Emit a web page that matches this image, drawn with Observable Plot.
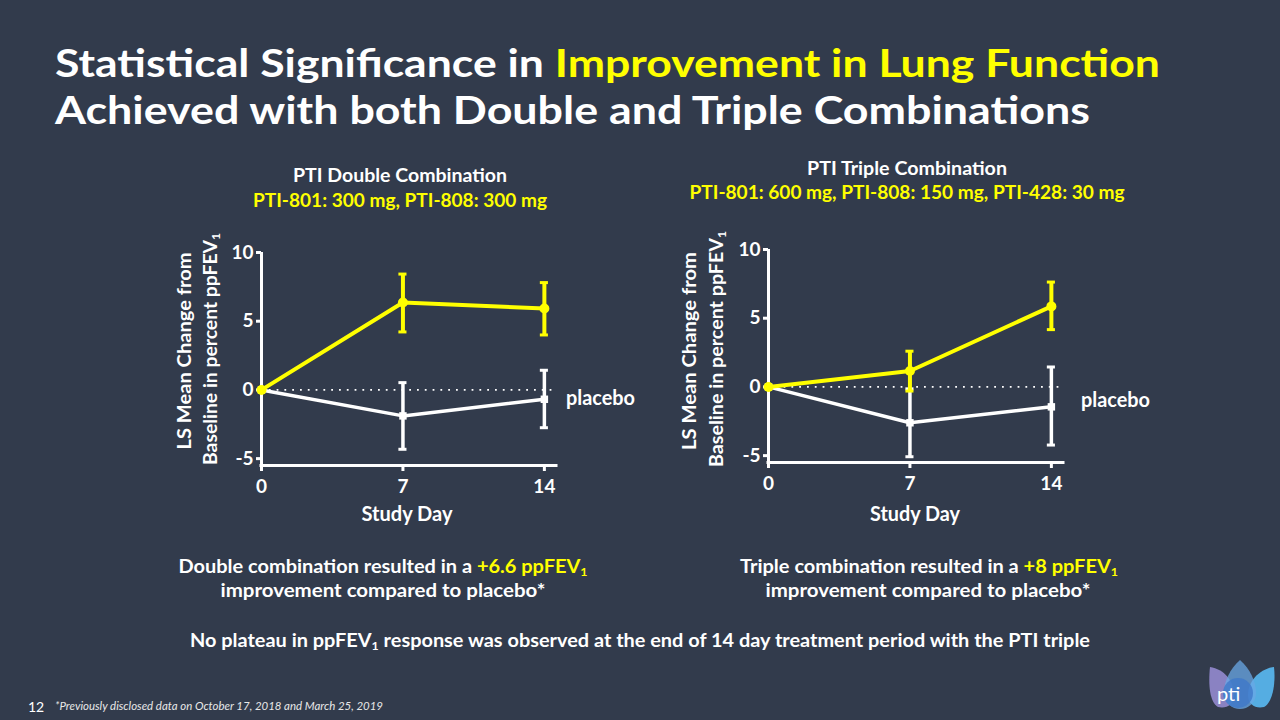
<!DOCTYPE html>
<html><head><meta charset="utf-8">
<script src="https://cdn.jsdelivr.net/npm/d3@7"></script>
<script src="https://cdn.jsdelivr.net/npm/@observablehq/plot@0.6"></script>
<style>
html,body{margin:0;padding:0;background:#323b4c;}
#slide{position:relative;width:1280px;height:720px;overflow:hidden;background:#323b4c;font-family:Lato,"Open Sans",sans-serif;font-weight:700;color:#fff;}
.t{position:absolute;white-space:nowrap;line-height:1;transform-origin:0 0;}
.y{color:#ffff00}
.sub{font-size:0.62em;vertical-align:-0.28em}
.chart{position:absolute}
.chart svg{overflow:visible}
</style></head><body><div id="slide"></div>
<script>
// ---- data ----
const days = [0, 7, 14];
const xTicks = [0, 7, 14];
const yTicks = [-5, 0, 5, 10];
const xDomain = [0, 14.6];
const yDomain = [-5.5, 10];

const doubleDrug      = [0, 6.36, 5.92];
const doubleDrugLo    = [0, 4.22, 4.00];
const doubleDrugHi    = [0, 8.43, 7.81];
const doublePlacebo   = [0, -1.89, -0.68];
const doublePlaceboLo = [0, -4.32, -2.75];
const doublePlaceboHi = [0, 0.53, 1.43];

const tripleDrug      = [0, 1.16, 5.86];
const tripleDrugLo    = [0, -0.30, 4.17];
const tripleDrugHi    = [0, 2.60, 7.63];
const triplePlacebo   = [0, -2.61, -1.45];
const triplePlaceboLo = [0, -5.08, -4.23];
const triplePlaceboHi = [0, -0.14, 1.45];

const YELLOW = "#ffff00";
const slide = document.getElementById("slide");

// ---- text helper ----
function label(html, x, base, size, o = {}) {
  const {anchor = "start", width = null, rotate = 0, italic = false, weight = 700, color = "#fff", scale = 1} = o;
  const el = document.createElement("div");
  el.className = "t";
  el.innerHTML = html;
  el.style.fontSize = size + "px";
  el.style.fontWeight = weight;
  el.style.color = color;
  if (italic) el.style.fontStyle = "italic";
  el.style.left = x + "px";
  el.style.top = base + "px";
  slide.appendChild(el);
  const w = el.getBoundingClientRect().width;
  const s = width ? width / w : scale;
  const tx = anchor === "middle" ? "-50%" : anchor === "end" ? "-100%" : "0";
  el.style.transform = `rotate(${rotate}deg) scaleX(${s}) translate(${tx}, ${-0.887 * size}px)`;
  return el;
}

// ---- chart helper ----
function chart(drug, lo, hi, pl, plLo, plHi, left, top) {
  const dd = days.map((d, i) => ({day: d, v: drug[i], lo: lo[i], hi: hi[i]}));
  const pd = days.map((d, i) => ({day: d, v: pl[i], lo: plLo[i], hi: plHi[i]}));
  const de = dd.filter(d => d.hi !== d.lo);
  const pe = pd.filter(d => d.hi !== d.lo);
  const cap = 0.2;
  const p = Plot.plot({
    width: 386, height: 280,
    marginLeft: 61, marginRight: 30, marginTop: 22, marginBottom: 45,
    x: {domain: xDomain}, y: {domain: yDomain},
    style: {background: "transparent", color: "#fff", fontFamily: "Lato, sans-serif", fontSize: "19px", fontWeight: 700, overflow: "visible"},
    marks: [
      Plot.ruleY([0], {x1: xDomain[0], x2: xDomain[1], stroke: "#fff", strokeWidth: 1.8, strokeDasharray: "1.8,6"}),
      Plot.axisY(yTicks, {tickSize: 5, tickPadding: 3, strokeWidth: 3, tickFormat: d => String(d), label: null}),
      Plot.axisX(xTicks, {tickSize: 6, tickPadding: 8, strokeWidth: 3, tickFormat: d => String(d), label: null}),
      Plot.ruleX([xDomain[0]], {y1: yDomain[0], y2: yDomain[1], stroke: "#fff", strokeWidth: 3}),
      Plot.ruleY([yDomain[0]], {x1: xDomain[0], x2: xDomain[1], stroke: "#fff", strokeWidth: 3, strokeLinecap: "square"}),
      // placebo
      Plot.ruleX(pe, {x: "day", y1: "lo", y2: "hi", stroke: "#fff", strokeWidth: 3.5}),
      Plot.ruleY(pe, {y: "hi", x1: d => d.day - cap, x2: d => d.day + cap, stroke: "#fff", strokeWidth: 3}),
      Plot.ruleY(pe, {y: "lo", x1: d => d.day - cap, x2: d => d.day + cap, stroke: "#fff", strokeWidth: 3}),
      Plot.line(pd, {x: "day", y: "v", stroke: "#fff", strokeWidth: 3.5}),
      Plot.dot(pd, {x: "day", y: "v", symbol: "square", r: 4.2, fill: "#fff"}),
      // drug
      Plot.ruleX(de, {x: "day", y1: "lo", y2: "hi", stroke: YELLOW, strokeWidth: 4}),
      Plot.ruleY(de, {y: "hi", x1: d => d.day - cap, x2: d => d.day + cap, stroke: YELLOW, strokeWidth: 3}),
      Plot.ruleY(de, {y: "lo", x1: d => d.day - cap, x2: d => d.day + cap, stroke: YELLOW, strokeWidth: 3}),
      Plot.line(dd, {x: "day", y: "v", stroke: YELLOW, strokeWidth: 4}),
      Plot.dot(dd, {x: "day", y: "v", r: 5, fill: YELLOW})
    ]
  });
  const wrap = document.createElement("div");
  wrap.className = "chart";
  wrap.style.left = left + "px";
  wrap.style.top = top + "px";
  wrap.appendChild(p);
  slide.appendChild(wrap);
}

chart(doubleDrug, doubleDrugLo, doubleDrugHi, doublePlacebo, doublePlaceboLo, doublePlaceboHi, 200, 230);
chart(tripleDrug, tripleDrugLo, tripleDrugHi, triplePlacebo, triplePlaceboLo, triplePlaceboHi, 707, 227);

// ---- texts ----
const SUB1 = '<span class="sub">1</span>';
label('Statistical Significance in <span class="y">Improvement in Lung Function</span>', 55, 78, 39, {width: 1105});
label('Achieved with both Double and Triple Combinations', 55, 125, 39, {width: 1035});

label('PTI Double Combination', 400, 182, 19.5, {anchor: "middle", width: 214});
label('PTI-801: 300 mg, PTI-808: 300 mg', 400, 207, 19.5, {anchor: "middle", width: 294, color: YELLOW});
label('PTI Triple Combination', 907, 175, 19.5, {anchor: "middle", width: 200});
label('PTI-801: 600 mg, PTI-808: 150 mg, PTI-428: 30 mg', 907, 199, 19.5, {anchor: "middle", width: 435, color: YELLOW});

label('LS Mean Change from', 190.5, 351, 18.5, {anchor: "middle", rotate: -90, width: 197});
label('Baseline in percent ppFEV' + SUB1, 217, 349, 18.5, {anchor: "middle", rotate: -90, width: 232});
label('LS Mean Change from', 696, 351, 18.5, {anchor: "middle", rotate: -90, width: 198});
label('Baseline in percent ppFEV' + SUB1, 723, 349, 18.5, {anchor: "middle", rotate: -90, width: 236});

label('Study Day', 407, 521, 20.5, {anchor: "middle", width: 91});
label('Study Day', 915, 521, 20.5, {anchor: "middle", width: 90});
label('placebo', 566, 405, 20.5, {width: 69});
label('placebo', 1081, 407, 20.5, {width: 69});

label('Double combination resulted in a <span class="y">+6.6 ppFEV' + SUB1 + '</span>', 383, 573, 19.5, {anchor: "middle", width: 409});
label('improvement compared to placebo*', 383, 597, 19.5, {anchor: "middle", width: 325});
label('Triple combination resulted in a <span class="y">+8 ppFEV' + SUB1 + '</span>', 929, 573, 19.5, {anchor: "middle", width: 378});
label('improvement compared to placebo*', 928, 597, 19.5, {anchor: "middle", width: 325});
label('No plateau in ppFEV' + SUB1 + ' response was observed at the end of 14 day treatment period with the PTI triple', 640, 647, 19.5, {anchor: "middle", width: 900});

label('12', 28, 712, 14, {weight: 400});
label('*Previously disclosed data on October 17, 2018 and March 25, 2019', 55, 710, 11.5, {weight: 400, italic: true, width: 328, color: "#e8e8e8"});

// ---- logo (decorative) ----
const logo = document.createElement("div");
logo.style.cssText = "position:absolute;left:1200px;top:655px;width:80px;height:60px";
logo.innerHTML = `<svg width="80" height="60" viewBox="0 0 80 60">
  <path d="M10 12 C 24 14 34 26 34 40 C 34 50 26 54 18 52 C 10 48 8 30 10 12 Z" fill="#8f86c8" opacity="0.95"/>
  <path d="M74 12 C 60 14 48 26 48 40 C 48 50 56 54 64 52 C 72 48 76 30 74 12 Z" fill="#57b3ea" opacity="0.95"/>
  <path d="M40 5 C 50 14 56 26 56 38 C 56 48 48 54 40 54 C 32 54 24 48 24 38 C 24 26 30 14 40 5 Z" fill="#6aa8e6" opacity="0.75"/>
  <circle cx="38" cy="38" r="15" fill="#3f78c9" opacity="0.8"/>
  <text x="17" y="46" font-family="Lato, sans-serif" font-size="20" fill="#fff" font-weight="400">pti</text>
</svg>`;
slide.appendChild(logo);
</script>
</body></html>
